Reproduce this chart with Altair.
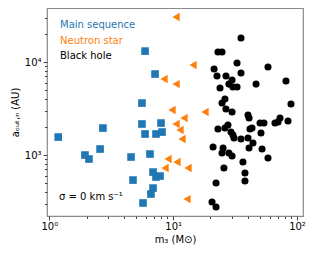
import altair as alt
import pandas as pd

# Main sequence (blue squares)
ms_m = [5.93, 7.14, 5.60, 1.18, 2.71, 2.57, 1.94, 2.09, 4.57, 4.74, 5.60,
        5.93, 7.98, 7.27, 8.13, 6.50, 6.88, 7.27, 7.83, 6.88, 6.62, 5.71]
ms_a = [13100, 7430, 3620, 1560, 1950, 1160, 1000, 906, 952, 538, 2155,
        1683, 2208, 1683, 1766, 1025, 656, 580, 594, 441, 381, 305]

# Neutron stars (orange left triangles)
ns_m = [10.55, 14.47, 8.44, 10.55, 9.79, 18.08, 12.24, 10.55, 11.36, 11.79,
        9.09, 10.74, 8.60, 13.18, 12.94]
ns_a = [30500, 9290, 6560, 5790, 3050, 2900, 2500, 2155, 1857, 1486,
        906, 841, 725, 725, 336]

# Black holes (black circles)
bh_m = [35.3, 23.0, 24.8, 32.8, 58.3, 21.4, 35.3, 22.6, 26.7, 29.9, 81.5,
        46.7, 28.2, 30.4, 32.8, 23.9, 26.2, 24.8, 89.4, 26.7, 29.9, 40.2,
        41.0, 72.9, 84.6, 50.3, 54.1, 66.4, 70.3, 27.7, 43.3, 41.7, 23.0,
        26.2, 29.3, 51.2, 30.4, 31.0, 35.3, 40.2, 44.1, 21.0, 25.3, 41.0,
        52.2, 24.8, 28.2, 29.9, 58.3, 36.6, 25.7, 38.0, 38.0, 22.2, 20.6, 22.2]
bh_a = [18100, 12810, 12810, 9750, 8830, 8410, 7620, 7060, 7060, 6400, 6250,
        5790, 5790, 5380, 5380, 5250, 4000, 3620, 3530, 3130, 2900, 2690,
        2500, 2500, 2320, 2208, 2208, 2208, 2265, 2100, 1950, 1903, 1903,
        1950, 1766, 1724, 1641, 1523, 1486, 1523, 1346, 1219, 1189, 1189,
        1160, 1051, 1051, 976, 928, 841, 725, 641, 525, 500, 312, 276]

x_major = [1, 10, 100]
x_minor = [2, 3, 4, 5, 6, 7, 8, 9, 20, 30, 40, 50, 60, 70, 80, 90]
y_major = [1000, 10000]
y_minor = [300, 400, 500, 600, 700, 800, 900, 2000, 3000, 4000, 5000,
           6000, 7000, 8000, 9000, 20000, 30000]

legend_labels = ["Main sequence", "Neutron star", "Black hole"]
colors = ["#1f77b4", "#ff7f0e", "#000000"]

FONT = "DejaVu Sans"

df_ms = pd.DataFrame({"m": ms_m, "a": ms_a})
df_ns = pd.DataFrame({"m": ns_m, "a": ns_a})
df_bh = pd.DataFrame({"m": bh_m, "a": bh_a})

xs = alt.Scale(type="log", domain=[0.958, 111.8], nice=False)
ys = alt.Scale(type="log", domain=[221, 38100], nice=False)

x_major_axis = alt.Axis(
    values=x_major, orient="bottom", grid=False, domain=False,
    labelExpr="'10' + (datum.value == 1 ? '⁰' : datum.value == 10 ? '¹' : '²')",
    title="m₃ (M⊙)", tickSize=4, labelPadding=1, titlePadding=3,
)
y_major_axis = alt.Axis(
    values=y_major, orient="left", grid=False, domain=False,
    labelExpr="'10' + (datum.value == 1000 ? '³' : '⁴')",
    title="aₒᵤₜ,ₙ (AU)", tickSize=4, labelPadding=2, titlePadding=4,
)
x_minor_axis = alt.Axis(values=x_minor, orient="bottom", grid=False, domain=False,
                        labels=False, title=None, tickSize=2.5)
y_minor_axis = alt.Axis(values=y_minor, orient="left", grid=False, domain=False,
                        labels=False, title=None, tickSize=2.5)

ms = alt.Chart(df_ms).mark_point(shape="square", filled=True, size=58,
                                 color=colors[0], opacity=1).encode(
    x=alt.X("m:Q", scale=xs, axis=x_major_axis),
    y=alt.Y("a:Q", scale=ys, axis=y_major_axis),
)
ns = alt.Chart(df_ns).mark_point(shape="triangle-left", filled=True, size=70,
                                 color=colors[1], opacity=1).encode(
    x=alt.X("m:Q", scale=xs, axis=x_minor_axis),
    y=alt.Y("a:Q", scale=ys, axis=y_minor_axis),
)
bh = alt.Chart(df_bh).mark_point(shape="circle", filled=True, size=50,
                                 color=colors[2], opacity=1).encode(
    x=alt.X("m:Q", scale=xs, axis=None),
    y=alt.Y("a:Q", scale=ys, axis=None),
)

texts = []
for lab, col, yy in zip(legend_labels, colors, [17, 33, 48]):
    texts.append(
        alt.Chart(pd.DataFrame({"t": [lab]})).mark_text(
            align="left", baseline="middle", font=FONT, fontSize=10, color=col
        ).encode(text="t:N", x=alt.value(13), y=alt.value(yy))
    )
texts.append(
    alt.Chart(pd.DataFrame({"t": ["σ = 0 km s⁻¹"]})).mark_text(
        align="left", baseline="middle", font=FONT, fontSize=10, color="black"
    ).encode(text="t:N", x=alt.value(12), y=alt.value(189))
)

chart = alt.layer(ms, ns, bh, *texts).resolve_axis(
    x="independent", y="independent"
).properties(
    width=256, height=208,
    padding={"left": 39, "top": 0, "right": 3, "bottom": 37},
    autosize=alt.AutoSizeParams(type="none"),
).configure_view(
    stroke="#8a8a8a", strokeWidth=1.2
).configure_axis(
    labelFont=FONT, titleFont=FONT, labelFontSize=10, titleFontSize=10,
    labelColor="black", titleColor="black", tickColor="#444",
    titleFontWeight="normal",
)

chart.save("out.html", embed_options={"renderer": "svg", "actions": False})
